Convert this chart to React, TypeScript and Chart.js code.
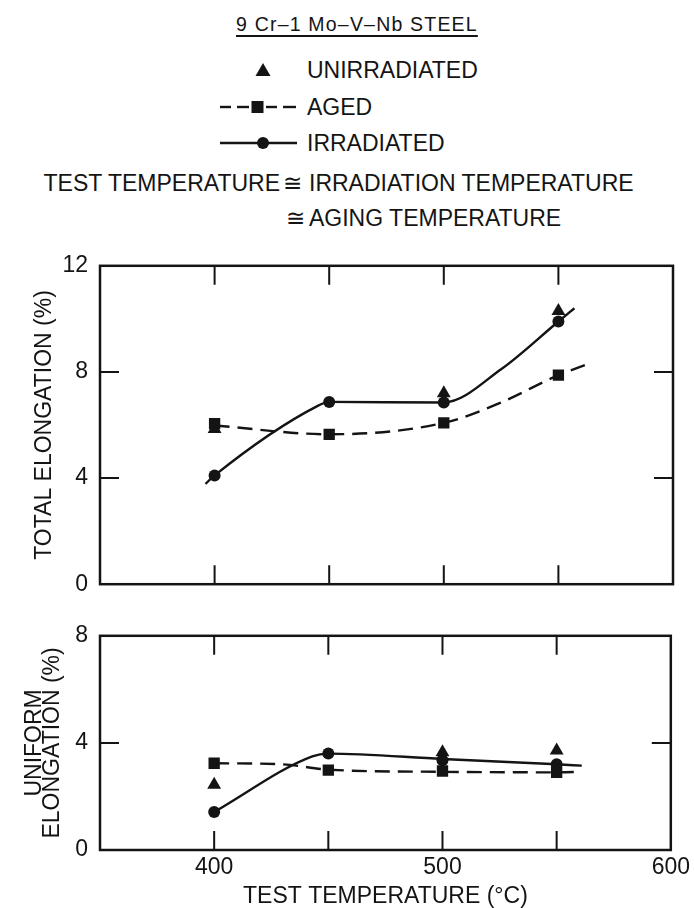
import React, { useEffect, useRef } from 'react';
import { Chart, registerables } from 'chart.js';

Chart.register(...registerables);

// ---------------- data ----------------
const TEMPS = [400, 450, 500, 550];
const X_MIN = 350;
const X_MAX = 600;
const X_TICKS = [400, 450, 500, 550];

// total elongation (%)
const TOTAL_UNIRR = [5.85, null, 7.2, 10.3];
const TOTAL_AGED = [6.05, 5.65, 6.08, 7.88];
const TOTAL_IRR = [4.1, 6.87, 6.85, 9.9];
const TOTAL_IRR_CURVE_X = [396, 400, 445, 450, 500, 525, 550, 557];
const TOTAL_IRR_CURVE_Y = [3.78, 4.1, 6.72, 6.87, 6.85, 8.1, 9.9, 10.4];
const TOTAL_AGED_CURVE_X = [400, 450, 500, 525, 550, 562];
const TOTAL_AGED_CURVE_Y = [5.98, 5.65, 6.08, 6.85, 7.88, 8.27];
const TOTAL_Y_TICKS = [4, 8];

// uniform elongation (%)
const UNIF_UNIRR = [2.44, null, 3.65, 3.72];
const UNIF_AGED = [3.24, 2.98, 2.95, 2.9];
const UNIF_IRR = [1.42, 3.6, 3.35, 3.2];
const UNIF_IRR_CURVE_X = [400, 443, 450, 500, 550, 561];
const UNIF_IRR_CURVE_Y = [1.42, 3.5, 3.6, 3.4, 3.2, 3.15];
const UNIF_AGED_CURVE_X = [400, 430, 450, 500, 550, 561];
const UNIF_AGED_CURVE_Y = [3.24, 3.2, 3.0, 2.92, 2.9, 2.92];
const UNIF_Y_TICKS = [4];

// ---------------- style ----------------
const FONT = "'Liberation Sans', Arial, Helvetica, sans-serif";
const INK = '#141414';

const pts = (xs: number[], ys: (number | null)[]) =>
  xs.map((x, i) => ({ x, y: ys[i] })).filter((p) => p.y !== null) as { x: number; y: number }[];

const framePlugin = {
  id: 'frameTicks',
  afterDatasetsDraw(chart: any, _a: any, opts: any) {
    const { ctx, chartArea: a, scales } = chart;
    const xs = scales.x;
    const ys = scales.y;
    ctx.save();
    ctx.strokeStyle = INK;
    ctx.lineWidth = 2.5;
    ctx.strokeRect(a.left, a.top, a.right - a.left, a.bottom - a.top);
    ctx.lineWidth = 2;
    const L = opts.len;
    ctx.beginPath();
    for (const v of opts.xTicks) {
      const px = xs.getPixelForValue(v);
      ctx.moveTo(px, a.bottom);
      ctx.lineTo(px, a.bottom - L);
      ctx.moveTo(px, a.top);
      ctx.lineTo(px, a.top + L);
    }
    for (const v of opts.yTicks) {
      const py = ys.getPixelForValue(v);
      ctx.moveTo(a.left, py);
      ctx.lineTo(a.left + L, py);
      ctx.moveTo(a.right, py);
      ctx.lineTo(a.right - L, py);
    }
    ctx.stroke();
    ctx.restore();
  },
};

type Cfg = {
  height: number;
  yMax: number;
  yTitle: string | string[];
  titlePad: number;
  titleLH: number;
  padTop: number;
  xAxisH: number;
  xLabels: boolean;
  yTicks: number[];
  unirr: (number | null)[];
  aged: (number | null)[];
  irr: (number | null)[];
  irrCurve: { x: number; y: number }[];
  agedCurve: { x: number; y: number }[];
};

function makeConfig(c: Cfg): any {
  const marker = (data: any, style: string, r: number) => ({
    data,
    showLine: false,
    pointStyle: style,
    pointRadius: r,
    pointBackgroundColor: INK,
    pointBorderColor: INK,
    pointBorderWidth: 0,
  });
  const curve = (data: any, dashed: boolean) => ({
    data,
    showLine: true,
    borderColor: INK,
    borderWidth: 2.4,
    borderDash: dashed ? [15, 8] : [],
    pointRadius: 0,
    cubicInterpolationMode: 'monotone',
    fill: false,
  });
  return {
    type: 'scatter',
    data: {
      datasets: [
        marker(pts(TEMPS, c.aged), 'rect', 8),
        marker(pts(TEMPS, c.irr), 'circle', 6),
        marker(pts(TEMPS, c.unirr), 'triangle', 8),
        curve(c.irrCurve, false),
        curve(c.agedCurve, true),
      ],
    },
    plugins: [framePlugin],
    options: {
      responsive: false,
      animation: false,
      devicePixelRatio: 1,
      layout: { padding: { top: c.padTop, right: 21, left: 0, bottom: 0 } },
      plugins: {
        legend: { display: false },
        tooltip: { enabled: false },
        frameTicks: { len: 19, xTicks: X_TICKS, yTicks: c.yTicks },
      },
      scales: {
        x: {
          type: 'linear',
          min: X_MIN,
          max: X_MAX,
          grid: { display: false, drawTicks: false },
          border: { display: false },
          ticks: {
            display: c.xLabels,
            stepSize: 50,
            padding: 4,
            color: INK,
            font: { family: FONT, size: 23 },
            callback: (v: number) => (v % 100 === 0 && v > X_MIN ? String(v) : ''),
          },
          title: {
            display: c.xLabels,
            text: 'TEST TEMPERATURE (°C)',
            color: INK,
            font: { family: FONT, size: 23, lineHeight: 1 },
            padding: { top: 0, bottom: 0 },
          },
          afterFit: (s: any) => {
            s.height = c.xAxisH;
          },
        },
        y: {
          min: 0,
          max: c.yMax,
          grid: { display: false, drawTicks: false },
          border: { display: false },
          ticks: {
            stepSize: 4,
            padding: 12,
            color: INK,
            font: { family: FONT, size: 23 },
          },
          title: {
            display: true,
            text: c.yTitle,
            color: INK,
            font: { family: FONT, size: 23, lineHeight: c.titleLH },
            padding: { top: c.titlePad, bottom: 0 },
          },
          afterFit: (s: any) => {
            s.width = 100;
          },
        },
      },
    },
  };
}

function ChartBox({ cfg, top, height }: { cfg: Cfg; top: number; height: number }) {
  const ref = useRef<HTMLCanvasElement>(null);
  useEffect(() => {
    const chart = new Chart(ref.current as HTMLCanvasElement, makeConfig(cfg));
    return () => chart.destroy();
  }, []);
  return (
    <canvas
      ref={ref}
      width={694}
      height={height}
      style={{ position: 'absolute', left: 0, top, width: 694, height }}
    />
  );
}

const textStyle = (left: number, cy: number, size = 23): React.CSSProperties => ({
  position: 'absolute',
  left,
  top: cy - size * 0.49,
  fontFamily: FONT,
  fontSize: size,
  lineHeight: `${size}px`,
  color: INK,
  whiteSpace: 'nowrap',
});

function Legend() {
  return (
    <>
      <div
        style={{
          ...textStyle(236, 25, 19.5),
          letterSpacing: '1.2px',
          textDecoration: 'underline',
          textDecorationThickness: '1.5px',
          textUnderlineOffset: '4px',
        }}
      >
        9 Cr–1 Mo–V–Nb STEEL
      </div>
      <svg width={100} height={170} style={{ position: 'absolute', left: 210, top: 55 }}>
        {/* triangle */}
        <polygon points="53,8 60.5,21 45.5,21" fill={INK} />
        {/* aged */}
        <g stroke={INK} strokeWidth={2.4}>
          <line x1={10} y1={52} x2={21} y2={52} />
          <line x1={27} y1={52} x2={39} y2={52} />
          <line x1={56} y1={52} x2={67} y2={52} />
          <line x1={73} y1={52} x2={86} y2={52} />
          <line x1={10} y1={88} x2={87} y2={88} />
        </g>
        <rect x={41.5} y={46} width={12} height={12} fill={INK} />
        <circle cx={53} cy={88} r={6} fill={INK} />
      </svg>
      <div style={textStyle(307, 70)}>UNIRRADIATED</div>
      <div style={textStyle(307, 107)}>AGED</div>
      <div style={textStyle(307, 143)}>IRRADIATED</div>
      <div style={{ ...textStyle(0, 183), width: 280, textAlign: 'right' }}>TEST TEMPERATURE</div>
      <div style={textStyle(283, 183)}>≅</div>
      <div style={textStyle(309, 183)}>IRRADIATION TEMPERATURE</div>
      <div style={textStyle(286, 218)}>≅</div>
      <div style={textStyle(309, 218)}>AGING TEMPERATURE</div>
    </>
  );
}

const TOP_CFG: Cfg = {
  height: 370,
  yMax: 12,
  yTitle: 'TOTAL ELONGATION (%)',
  titlePad: 31,
  titleLH: 1.2,
  padTop: 23,
  xAxisH: 13,
  xLabels: false,
  yTicks: TOTAL_Y_TICKS,
  unirr: TOTAL_UNIRR,
  aged: TOTAL_AGED,
  irr: TOTAL_IRR,
  irrCurve: pts(TOTAL_IRR_CURVE_X, TOTAL_IRR_CURVE_Y),
  agedCurve: pts(TOTAL_AGED_CURVE_X, TOTAL_AGED_CURVE_Y),
};

const BOTTOM_CFG: Cfg = {
  height: 298,
  yMax: 8,
  yTitle: ['UNIFORM', 'ELONGATION (%)'],
  titlePad: 25.5,
  titleLH: 0.8,
  padTop: 20,
  xAxisH: 58,
  xLabels: true,
  yTicks: UNIF_Y_TICKS,
  unirr: UNIF_UNIRR,
  aged: UNIF_AGED,
  irr: UNIF_IRR,
  irrCurve: pts(UNIF_IRR_CURVE_X, UNIF_IRR_CURVE_Y),
  agedCurve: pts(UNIF_AGED_CURVE_X, UNIF_AGED_CURVE_Y),
};

export default function App() {
  return (
    <div
      style={{
        position: 'absolute',
        left: 0,
        top: 0,
        width: 694,
        height: 908,
        background: '#fff',
        overflow: 'hidden',
      }}
    >
      <Legend />
      <ChartBox cfg={TOP_CFG} top={240} height={370} />
      <ChartBox cfg={BOTTOM_CFG} top={610} height={298} />
    </div>
  );
}
